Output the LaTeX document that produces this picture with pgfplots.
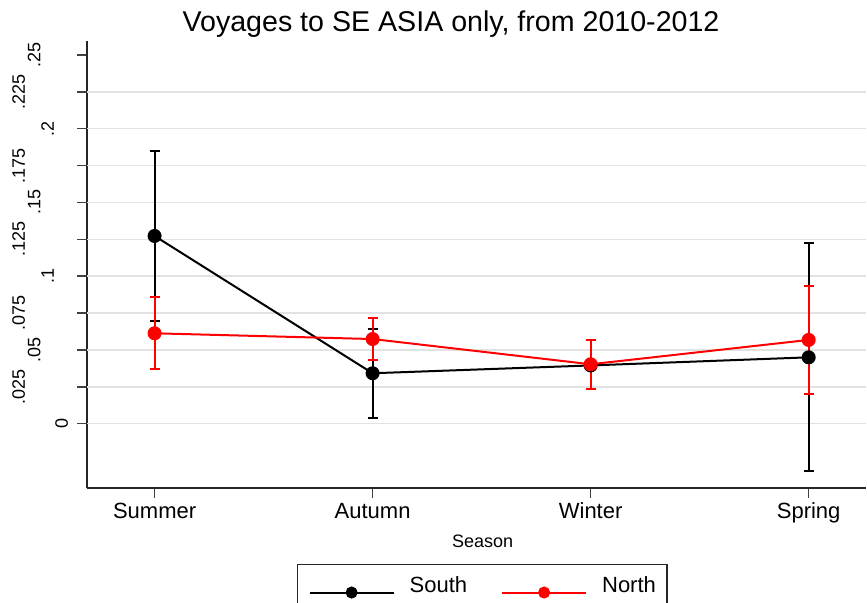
\documentclass[border=0pt]{standalone}
\usepackage{fontspec}
\setmainfont{Liberation Sans}
\usepackage{pgfplots}
\pgfplotsset{compat=1.18}
\definecolor{gridgray}{RGB}{226,226,226}
\newcommand{\yl}[2]{\raisebox{#1}[0pt][0pt]{#2}}
\begin{document}
\begin{tikzpicture}
\begin{axis}[
  scale only axis, width=389.5pt, height=223.5pt,
  xmin=-0.31, xmax=3.263, ymin=-0.0436, ymax=0.2595,
  axis x line=bottom, axis y line=left,
  axis line style={-, line width=0.75pt, draw=black!85},
  tick align=outside, major tick length=5pt,
  tick style={line width=0.75pt, draw=black!75},
  xtick={0,1,2,3}, xticklabels={Summer,Autumn,Winter,Spring},
  xticklabel style={font=\fontsize{11}{12}\selectfont, anchor=base, inner sep=0pt, yshift=-10.5pt},
  ytick={0,0.025,0.05,0.075,0.1,0.125,0.15,0.175,0.2,0.225,0.25},
  yticklabels={{\yl{4.5pt}{0}},{\yl{26pt}{.025}},{\yl{18.25pt}{.05}},{\yl{26pt}{.075}},{\yl{11.5pt}{.1}},{\yl{26pt}{.125}},{\yl{18.25pt}{.15}},{\yl{26pt}{.175}},{\yl{11.5pt}{.2}},{\yl{26pt}{.225}},{\yl{18.25pt}{.25}}},
  yticklabel style={font=\fontsize{9}{10}\selectfont, inner sep=0pt, anchor=center, rotate=90},
  extra y ticks={0,0.025,0.05,0.075,0.1,0.125,0.15,0.175,0.2,0.225},
  extra y tick labels={},
  extra y tick style={grid=major, tick style={draw=none}},
  major grid style={gridgray, line width=0.75pt},
  title={Voyages to SE ASIA only, from 2010-2012},
  title style={at={(0.4673,0.9933)}, anchor=base, font=\fontsize{14.3}{16}\selectfont, inner sep=0pt},
  xlabel={Season},
  xlabel style={at={(0.508,-0.1342)}, anchor=base, font=\fontsize{9}{10}\selectfont, inner sep=0pt},
  legend columns=2,
  legend style={at={(0.2696,-0.170)}, anchor=north west, draw=black!85, line width=0.6pt,
    inner xsep=5.5pt, inner ysep=6pt, font=\fontsize{11}{13}\selectfont,
    nodes={inner sep=0pt, anchor=base west},
    /tikz/every odd column/.append style={column sep=7.5pt},
    /tikz/every even column/.append style={column sep=17pt}},
  legend image code/.code={\draw[#1, mark size=2.5pt, mark repeat=2, mark phase=2] plot coordinates {(0pt,0pt) (21pt,0pt) (42pt,0pt)};},
]
\addplot[black, line width=1pt, mark=*, mark size=3pt, mark options={solid, fill=black},
  error bars/.cd, y dir=both, y explicit,
  error bar style={line width=1pt, black},
  error mark options={rotate=90, mark size=2.5pt, line width=1pt, black}]
  coordinates {
  (0,0.1273) +- (0,0.0576)
  (1,0.0342) +- (0,0.0300)
  (2,0.0395) +- (0,0.0)
  (3,0.0450) +- (0,0.0773)
  };
\addlegendentry{South}
\addplot[red, line width=1pt, mark=*, mark size=3pt, mark options={solid, fill=red},
  error bars/.cd, y dir=both, y explicit,
  error bar style={line width=1pt, red},
  error mark options={rotate=90, mark size=2.5pt, line width=1pt, red}]
  coordinates {
  (0,0.0613) +- (0,0.0245)
  (1,0.0574) +- (0,0.0144)
  (2,0.0403) +- (0,0.0167)
  (3,0.0568) +- (0,0.0365)
  };
\addlegendentry{North}
\end{axis}
\pgfresetboundingbox
\path[use as bounding box] ([shift={(-43.5pt,-57.5pt)}]current axis.south west) rectangle ([shift={(390pt,244pt)}]current axis.south west);
\end{tikzpicture}
\end{document}
